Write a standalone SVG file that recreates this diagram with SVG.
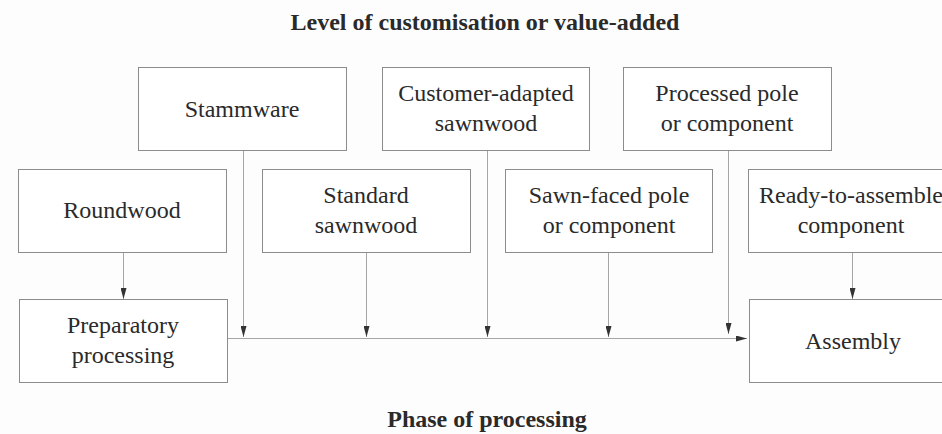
<svg xmlns="http://www.w3.org/2000/svg" width="942" height="434" viewBox="0 0 942 434">
  <style>
    .box { fill: #ffffff; stroke: #8c8c8c; stroke-width: 1; }
    .label { font-family: "Liberation Serif", "Times New Roman", serif; font-size: 24px; fill: #2a2a2a; text-anchor: middle; }
    .title { font-family: "Liberation Serif", "Times New Roman", serif; font-size: 24px; font-weight: bold; fill: #2a2a2a; text-anchor: middle; }
    .link { fill: none; stroke: #a6a6a6; stroke-width: 1; }
  </style>
  <defs>
    <marker id="arrow" viewBox="0 0 11 6" refX="11" refY="3" markerWidth="11" markerHeight="6" markerUnits="userSpaceOnUse" orient="auto">
      <path d="M0,0 L11,3 L0,6 Z" fill="#333333"/>
    </marker>
  </defs>

  <rect width="942" height="434" fill="#fdfdfd"/>

  <!-- axis titles -->
  <text class="title" x="485" y="30">Level of customisation or value-added</text>
  <text class="title" x="487" y="427">Phase of processing</text>

  <!-- upper row -->
  <g id="stammware">
    <rect class="box" x="138.5" y="67.5" width="208" height="83"/>
    <text class="label" x="242" y="117">Stammware</text>
  </g>
  <g id="customer-adapted-sawnwood">
    <rect class="box" x="382.5" y="67.5" width="207" height="83"/>
    <text class="label" x="486" y="101">Customer-adapted</text>
    <text class="label" x="486" y="131">sawnwood</text>
  </g>
  <g id="processed-pole">
    <rect class="box" x="623.5" y="67.5" width="208" height="83"/>
    <text class="label" x="727" y="101">Processed pole</text>
    <text class="label" x="727" y="131">or component</text>
  </g>

  <!-- middle row -->
  <g id="roundwood">
    <rect class="box" x="18.5" y="169.5" width="208" height="83"/>
    <text class="label" x="122" y="218">Roundwood</text>
  </g>
  <g id="standard-sawnwood">
    <rect class="box" x="262.5" y="169.5" width="208" height="83"/>
    <text class="label" x="366" y="203">Standard</text>
    <text class="label" x="366" y="233">sawnwood</text>
  </g>
  <g id="sawn-faced-pole">
    <rect class="box" x="505.5" y="169.5" width="207" height="83"/>
    <text class="label" x="609" y="203">Sawn-faced pole</text>
    <text class="label" x="609" y="233">or component</text>
  </g>
  <g id="ready-to-assemble">
    <rect class="box" x="748.5" y="169.5" width="208" height="83"/>
    <text class="label" x="851" y="203">Ready-to-assemble</text>
    <text class="label" x="851" y="233">component</text>
  </g>

  <!-- lower row -->
  <g id="preparatory-processing">
    <rect class="box" x="19.5" y="299.5" width="208" height="83"/>
    <text class="label" x="123" y="333">Preparatory</text>
    <text class="label" x="123" y="363">processing</text>
  </g>
  <g id="assembly">
    <rect class="box" x="749.5" y="299.5" width="208" height="83"/>
    <text class="label" x="853" y="349">Assembly</text>
  </g>

  <!-- connectors -->
  <g id="connectors">
    <line class="link" x1="123.5" y1="253" x2="123.5" y2="299" marker-end="url(#arrow)"/>
    <line class="link" x1="852.5" y1="253" x2="852.5" y2="299" marker-end="url(#arrow)"/>
    <line class="link" x1="228" y1="338.5" x2="747" y2="338.5" marker-end="url(#arrow)"/>
    <line class="link" x1="243.5" y1="151" x2="243.5" y2="337" marker-end="url(#arrow)"/>
    <line class="link" x1="366.5" y1="253" x2="366.5" y2="337" marker-end="url(#arrow)"/>
    <line class="link" x1="487.5" y1="151" x2="487.5" y2="337" marker-end="url(#arrow)"/>
    <line class="link" x1="608.5" y1="253" x2="608.5" y2="337" marker-end="url(#arrow)"/>
    <line class="link" x1="728.5" y1="151" x2="728.5" y2="334" marker-end="url(#arrow)"/>
  </g>
</svg>
